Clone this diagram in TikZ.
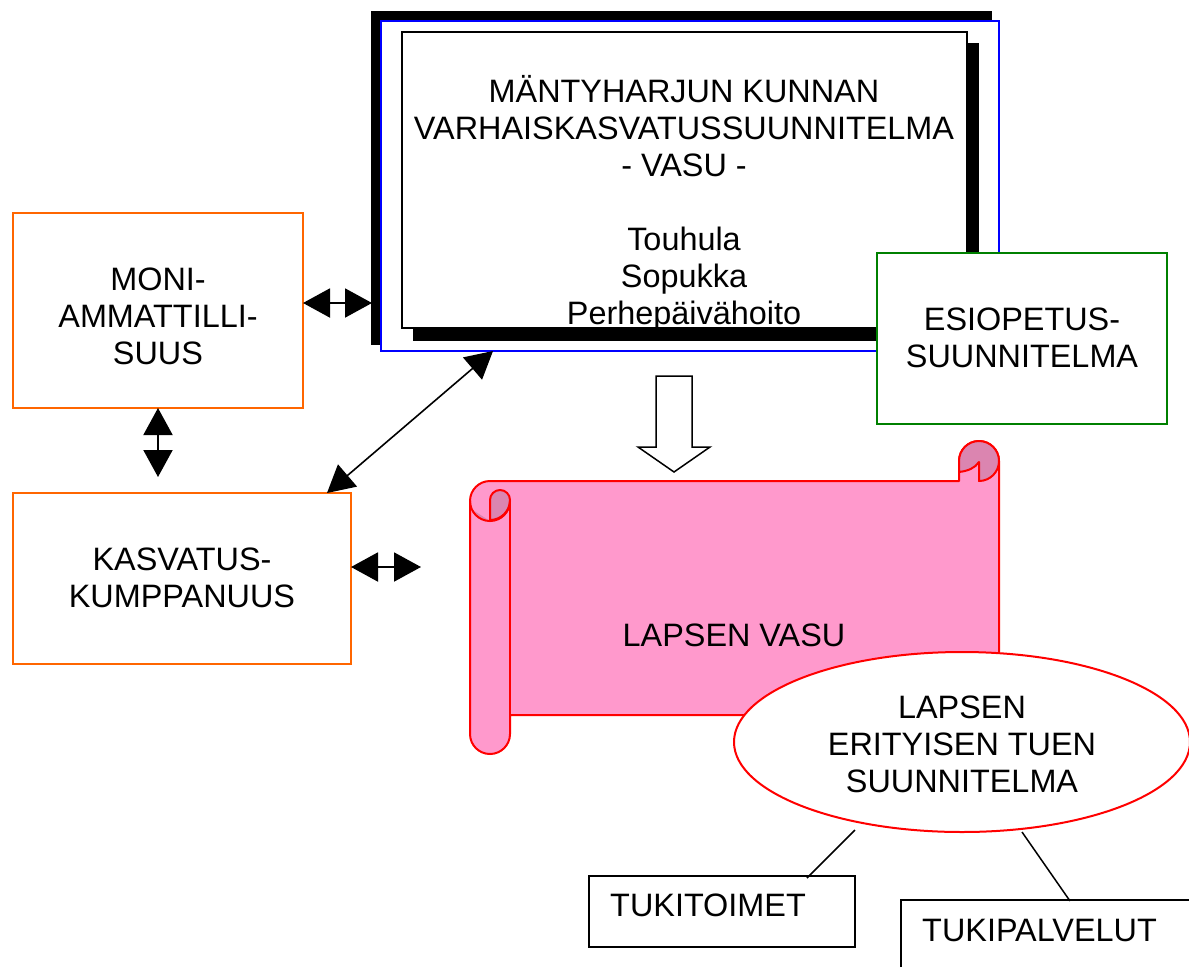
\documentclass[tikz,border=0pt]{standalone}
\usepackage{fontspec}
\setmainfont{Liberation Sans}
\usetikzlibrary{arrows.meta,shapes.geometric}
\definecolor{orangeline}{RGB}{255,102,0}
\definecolor{greenline}{RGB}{0,128,0}
\definecolor{blueline}{RGB}{0,0,255}
\definecolor{scrollpink}{RGB}{255,153,204}
\definecolor{scrolldark}{RGB}{219,133,176}
\tikzset{
  x=1pt,y=-1pt,
  lbl/.style={align=center,font=\fontsize{32.4}{37}\selectfont,inner sep=0pt,text=black},
  plainbox/.style={draw=black,line width=2pt,fill=white},
  orangebox/.style={draw=orangeline,line width=2pt,fill=white},
  scrollline/.style={draw=red,line width=2pt,line join=round},
  dbl/.style={line width=2pt,{Triangle[length=27pt,width=29pt]}-{Triangle[length=27pt,width=29pt]},shorten <=0pt,shorten >=0pt},
}
\begin{document}
\begin{tikzpicture}
\useasboundingbox (0,0) rectangle (1189,967);
% main stacked frame
\fill[black] (371,11) rectangle (992,345);
\filldraw[draw=blueline,fill=white,line width=2pt] (381,21) rectangle (999,351);
\fill[black] (413,43) rectangle (979,341);
\draw[plainbox] (402,32) rectangle (967,328);
\node[lbl] (main) at (684,203) {MÄNTYHARJUN KUNNAN\\VARHAISKASVATUSSUUNNITELMA\\- VASU -\\[37pt]Touhula\\Sopukka\\Perhepäivähoito};
% side boxes
\draw[orangebox] (13,213) rectangle (303,408);
\node[lbl] (moni) at (158,316) {MONI-\\AMMATTILLI-\\SUUS};
\draw[orangebox] (13,493) rectangle (351,664);
\node[lbl] (kasv) at (182,578) {KASVATUS-\\KUMPPANUUS};
\draw[draw=greenline,line width=2pt,fill=white] (877,253) rectangle (1167,424);
\node[lbl] (esi) at (1022,338) {ESIOPETUS-\\SUUNNITELMA};
% connector end points
\coordinate (a1) at (303,303); \coordinate (a2) at (372,303);
\coordinate (b1) at (158,408); \coordinate (b2) at (158,477);
\coordinate (c1) at (351,567); \coordinate (c2) at (421,567);
\coordinate (d1) at (493,351); \coordinate (d2) at (327,493);
\draw[dbl] (a1) -- (a2);
\draw[dbl] (b1) -- (b2);
\draw[dbl] (c1) -- (c2);
\draw[dbl,line width=1.6pt] (d1) -- (d2);
% hollow arrow
\draw[draw=black,line width=1.5pt,fill=white,line join=miter] (656,376) -- (692,376) -- (692,447) -- (710,447) -- (674,472) -- (638,447) -- (656,447) -- cycle;
% scroll
\path[scrollline,fill=scrollpink] (490,481) -- (959,481) -- (959,461) arc[start angle=180,end angle=360,radius=20] -- (999,715) -- (510,715) -- (510,734) arc[start angle=0,end angle=180,radius=20] -- (470,501) arc[start angle=180,end angle=270,radius=20] -- cycle;
% left curl
\fill[scrolldark] (490,521) arc[start angle=90,end angle=155,radius=20] -- cycle;
\path[scrollline,fill=scrolldark] (490,521) -- (490,500) arc[start angle=180,end angle=360,radius=10] arc[start angle=0,end angle=90,radius=20] -- cycle;
\draw[scrollline] (470,501) arc[start angle=180,end angle=0,radius=20];
\draw[scrollline] (510,501) -- (510,715);
% right curl
\path[scrollline,fill=scrolldark] (959,461) arc[start angle=180,end angle=360,radius=20] arc[start angle=0,end angle=90,radius=20] -- (979,462) .. controls (975,468) and (968,471) .. (959,472) -- cycle;
\node[lbl] (lapsen) at (734,635) {LAPSEN VASU};
% ellipse
\node[ellipse,draw=red,line width=2pt,fill=white,minimum width=456pt,minimum height=180pt,inner sep=0pt] (eri) at (962,742) {};
\node[lbl] (eritxt) at (962,744) {LAPSEN\\ERITYISEN TUEN\\SUUNNITELMA};
% bottom boxes
\draw[plainbox] (589,876) rectangle (855,947);
\node[lbl,anchor=west] (tt) at (610,905) {TUKITOIMET};
\draw[draw=black,line width=2pt] (901,967) -- (901,900) -- (1189,900);
\node[lbl,anchor=west] (tp) at (922,930) {TUKIPALVELUT};
\coordinate (e1) at (855,830); \coordinate (e2) at (807,878);
\coordinate (f1) at (1022,832); \coordinate (f2) at (1070,901);
\draw[line width=1.5pt] (e1) -- (e2);
\draw[line width=1.5pt] (f1) -- (f2);
\end{tikzpicture}
\end{document}
